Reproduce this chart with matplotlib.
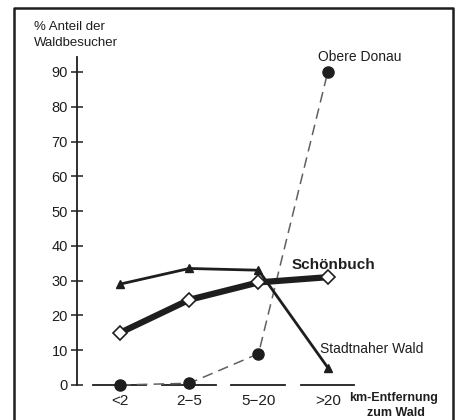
import numpy as np
import matplotlib
matplotlib.use("Agg")
import matplotlib.pyplot as plt
from matplotlib.lines import Line2D

plt.rcParams['font.family'] = ['Liberation Sans', 'DejaVu Sans']

categories = ["<2", "2\u22125", "5\u221220", ">20"]
stadtnah = [29, 33.5, 33, 5]
schoenbuch = [15, 24.5, 29.5, 31]
obere_donau = [0, 0.5, 9, 90]
yticks = [0, 10, 20, 30, 40, 50, 60, 70, 80, 90]

ink = "#1e1e1e"
W, H = 464, 420


def px(x, y):
    # pixel position (from top left) to figure fraction
    return x / W, 1 - y / H


fig = plt.figure(figsize=(4.64, 4.2), dpi=100)
fig.patch.set_facecolor("white")

# open frame: left, top and right edges, running off the bottom
fx = [14 / W, 14 / W, 453 / W, 453 / W]
fy = [0, 1 - 8 / H, 1 - 8 / H, 0]
fig.lines.append(Line2D(fx, fy, transform=fig.transFigure, color=ink,
                        linewidth=1.8))

ax = fig.add_axes([77 / W, 35 / H, 363 / W, 328 / H])
x = np.arange(len(categories))
ax.set_xlim(-0.62, 4.62)
ax.set_ylim(0, 94.3)

for s in ["top", "right", "bottom"]:
    ax.spines[s].set_visible(False)
ax.spines["left"].set_color(ink)
ax.spines["left"].set_linewidth(1.3)

ax.set_xticks([])
ax.set_yticks(yticks)
ax.tick_params(axis="y", direction="inout", length=9, width=1.1,
               colors=ink, labelsize=10.5, pad=2)

# segmented baseline
for i in x:
    ax.plot([i - 0.39, i + 0.38], [0, 0], color=ink, lw=1.3,
            clip_on=False, zorder=1)

ax.plot(x, obere_donau, color="#606060", lw=1.1, ls=(0, (7, 4)),
        marker="o", ms=8, mfc=ink, mec=ink, clip_on=False, zorder=2)
ax.plot(x, stadtnah, color=ink, lw=2, marker="^", ms=6,
        mfc=ink, mec=ink, clip_on=False, zorder=3)
ax.plot(x, schoenbuch, color=ink, lw=4.5, marker="D", ms=7,
        mfc="white", mec=ink, mew=1.2, clip_on=False, zorder=4)

for i, c in enumerate(categories):
    ax.text(i, -4.5, c, ha="center", va="center", fontsize=11,
            color=ink)

fig.text(*px(394, 398), "km-Entfernung", ha="center", va="center",
         fontsize=9, fontweight="bold", color=ink)
fig.text(*px(396, 413), "zum Wald", ha="center", va="center",
         fontsize=9, fontweight="bold", color=ink)
fig.text(*px(360, 57), "Obere Donau", ha="center", va="center",
         fontsize=10, color=ink)
fig.text(*px(333, 265), "Sch\u00f6nbuch", ha="center", va="center",
         fontsize=11, fontweight="bold", color=ink)
fig.text(*px(372, 349), "Stadtnaher Wald", ha="center", va="center",
         fontsize=10, color=ink)

fig.text(*px(34, 35), "% Anteil der\nWaldbesucher",
         ha="left", va="center", fontsize=9.5, color=ink, linespacing=1.5)

fig.savefig("out.png", dpi=100)
